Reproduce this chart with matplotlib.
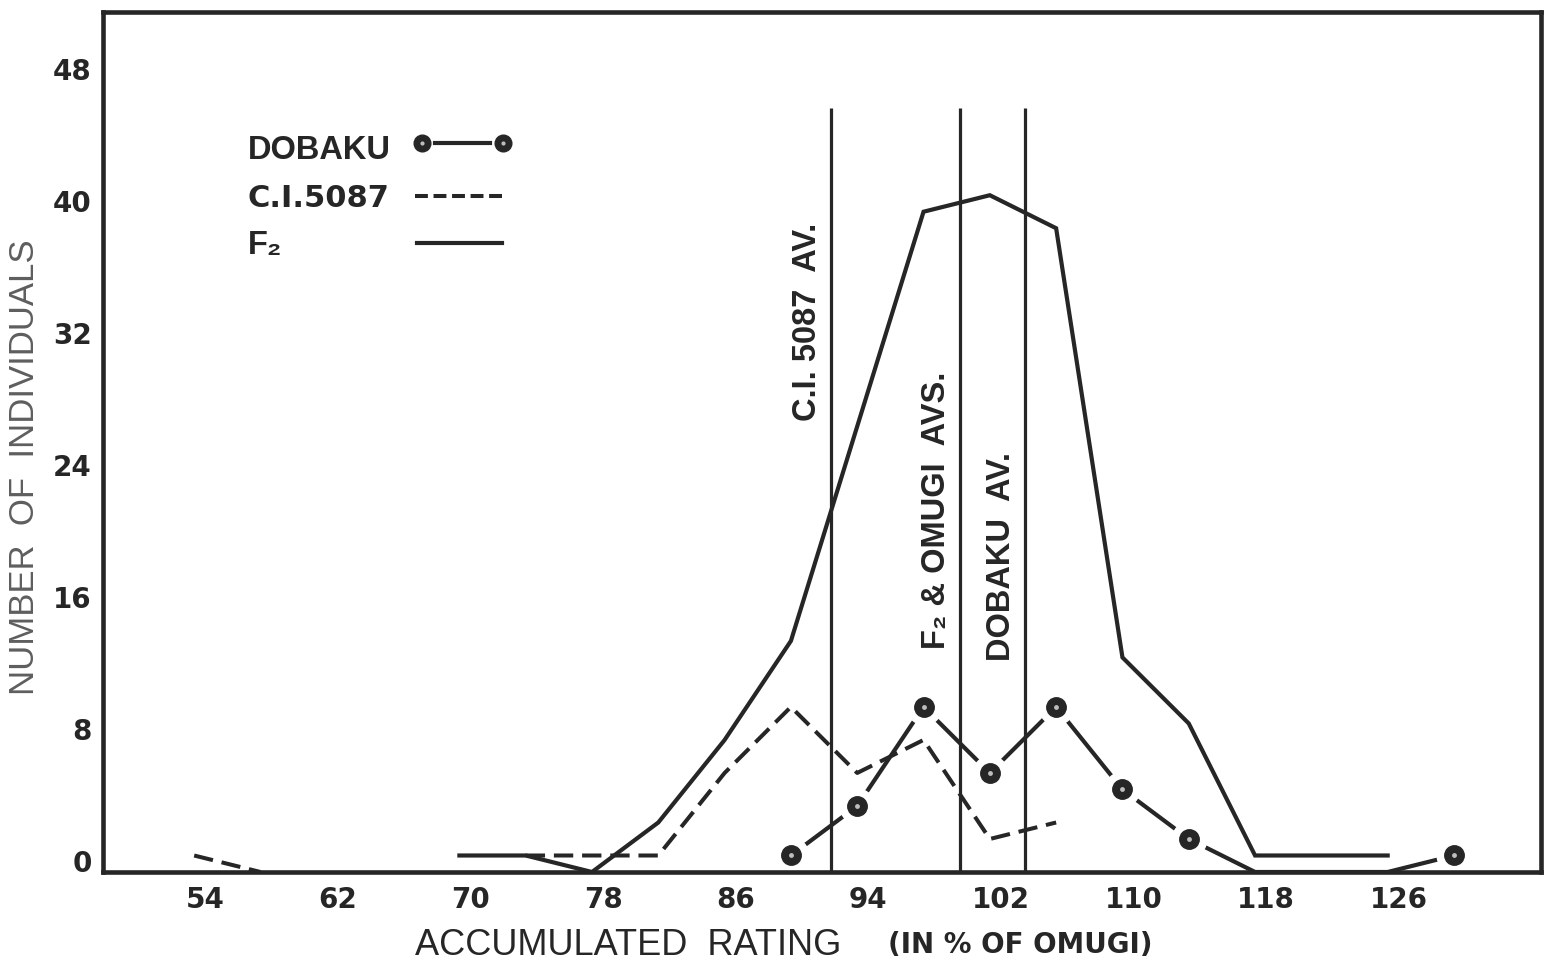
import numpy as np
import matplotlib
matplotlib.use("Agg")
import matplotlib.pyplot as plt
from matplotlib import transforms

# --- data ---
rating_ticks = [54, 62, 70, 78, 86, 94, 102, 110, 118, 126]
count_ticks = [0, 8, 16, 24, 32, 40, 48]

# F2 population
f2_x = [70, 74, 78, 82, 86, 90, 94, 98, 102, 106, 110, 114, 118, 122, 126]
f2_n = [1, 1, 0, 3, 8, 14, 27, 40, 41, 39, 13, 9, 1, 1, 1]

# C.I. 5087 parent (gap where nothing was drawn)
ci_x = [54, 58, 62, 66, 70, 74, 78, 82, 86, 90, 94, 98, 102, 106]
ci_n = [1, 0, np.nan, np.nan, np.nan, 1, 1, 1, 6, 10, 6, 8, 2, 3]

# Dobaku parent
dobaku_x = [90, 94, 98, 102, 106, 110, 114, 118, 122, 126, 130]
dobaku_n = [1, 4, 10, 6, 10, 5, 2, 0, 0, 0, 1]

# averages (vertical lines) and their labels
avg_x = [92.4, 100.2, 104.1]
avg_top = 46.3
avg_labels = ["C.I. 5087  AV.", "F₂ & OMUGI  AVS.", "DOBAKU  AV."]
avg_label_y = [33.3, 21.9, 19.1]

INK = "#262626"
FONT = ["Liberation Sans", "DejaVu Sans"]
WIDE = ["DejaVu Sans"]
plt.rcParams["font.family"] = FONT

fig = plt.figure(figsize=(15.49, 9.68), dpi=100)
ax = fig.add_axes([103 / 1549, 1 - 872 / 968, 1438 / 1549, 860 / 968])

ax.set_xlim(48.5, 135.25)
ax.set_ylim(0, 52.1)

# --- series ---
ax.plot(f2_x, f2_n, color=INK, lw=3.0, solid_joinstyle="miter", zorder=3)
ax.plot(ci_x, ci_n, color=INK, lw=2.9, linestyle=(0, (4.8, 2.2)), zorder=3)

for x, lab, ly in zip(avg_x, avg_labels, avg_label_y):
    ax.vlines(x, 0, avg_top, color=INK, lw=2.3, zorder=2)
    off = transforms.ScaledTranslation(-0.23, 0, fig.dpi_scale_trans)
    ax.text(x, ly, lab, rotation=90, ha="center", va="center", fontsize=23.5,
            fontweight="bold", color=INK, transform=ax.transData + off)

dob_n = np.array(dobaku_n)
with_dot = [i for i in range(len(dob_n)) if dob_n[i] > 0]
ax.plot(dobaku_x, dobaku_n, color=INK, lw=3.0, zorder=4)
ax.plot(dobaku_x, dobaku_n, linestyle="none", marker="o", markevery=with_dot,
        ms=25, mfc="white", mec="white", zorder=5)
ax.plot(dobaku_x, dobaku_n, linestyle="none", marker="o", markevery=with_dot,
        ms=14, mfc=INK, mec=INK, zorder=6)
ax.plot(dobaku_x, dobaku_n, linestyle="none", marker="o", markevery=with_dot,
        ms=3.5, mfc="#bdbdbd", mec="none", zorder=7)

# --- legend drawn by hand (text left, key right) ---
tA = ax.transAxes
ax.text(0.1008, 0.8395, "DOBAKU", transform=tA, fontsize=23.5, fontweight="bold",
        color=INK, va="center", ha="left")
ax.text(0.1008, 0.7837, "C.I.5087", transform=tA, fontsize=22, fontweight="bold",
        color=INK, va="center", ha="left", family=WIDE)
ax.text(0.1008, 0.729, "F₂", transform=tA, fontsize=23.5, fontweight="bold",
        color=INK, va="center", ha="left")
ax.plot([0.2309, 0.2691], [0.8477, 0.8477], transform=tA, color=INK, lw=3.0)
ax.plot([0.2218, 0.2782], [0.8477, 0.8477], transform=tA, linestyle="none",
        marker="o", ms=12, mfc=INK, mec=INK)
ax.plot([0.2218, 0.2782], [0.8477, 0.8477], transform=tA, linestyle="none",
        marker="o", ms=3, mfc="#bdbdbd", mec="none")
ax.plot([0.217, 0.2796], [0.786, 0.786], transform=tA, color=INK, lw=2.9,
        linestyle=(0, (3.2, 1.4)))
ax.plot([0.2184, 0.2775], [0.7314, 0.7314], transform=tA, color=INK, lw=3.0)

# --- axes, ticks and labels ---
for s in ax.spines.values():
    s.set_linewidth(3.3)
    s.set_color(INK)
    s.set_zorder(5.5)  # frame stays over the white halos of the markers

ax.set_xticks(rating_ticks)
ax.set_yticks(count_ticks)
ax.tick_params(length=0, colors=INK)
ax.tick_params(axis="x", pad=10)
ax.tick_params(axis="y", pad=8)
for t in ax.get_xticklabels():
    t.set_family(WIDE)
    t.set_fontsize(20)
    t.set_fontweight("bold")
    t.set_transform(t.get_transform() + transforms.ScaledTranslation(0.11, 0, fig.dpi_scale_trans))
for t in ax.get_yticklabels():
    t.set_family(WIDE)
    t.set_fontsize(20)
    t.set_fontweight("bold")
    t.set_transform(t.get_transform() + transforms.ScaledTranslation(0, 0.11, fig.dpi_scale_trans))

ax.set_ylabel("NUMBER  OF  INDIVIDUALS", fontsize=25, color="#5e5e5e", va="center")
ax.yaxis.set_label_coords(-0.0543, 0.471)

ax.text(0.3654, -0.085, "ACCUMULATED  RATING", transform=tA, fontsize=26,
        color=INK, ha="center", va="center")
ax.text(0.638, -0.085, "(IN % OF OMUGI)", transform=tA, fontsize=20,
        fontweight="bold", color=INK, ha="center", va="center", family=WIDE)

fig.savefig("out.png", dpi=100)
